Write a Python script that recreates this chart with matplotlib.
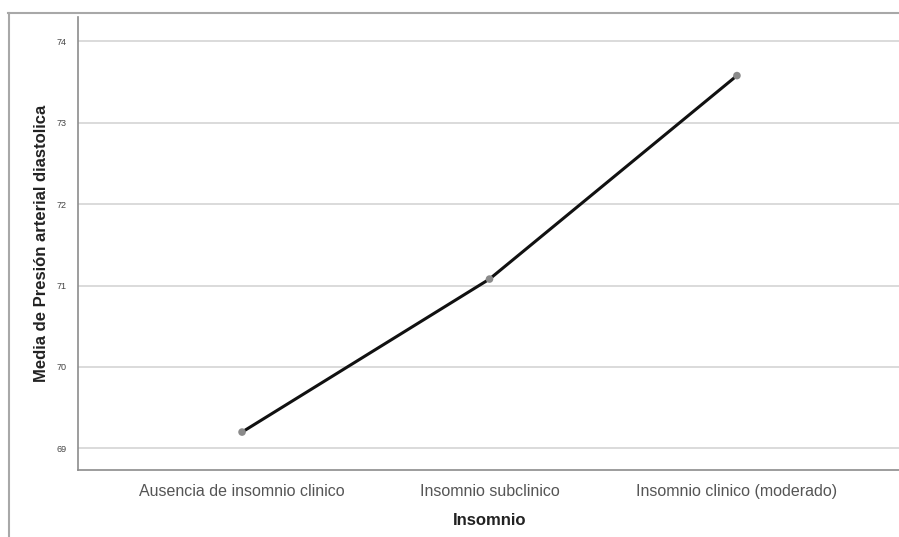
import matplotlib
matplotlib.use("Agg")
import matplotlib.pyplot as plt
from matplotlib.lines import Line2D

categories = ["Ausencia de insomnio clinico", "Insomnio subclinico", "Insomnio clinico (moderado)"]
means = [69.20, 71.08, 73.58]
yticks = [69, 70, 71, 72, 73, 74]

W, H = 899, 537
fig = plt.figure(figsize=(W / 100, H / 100), dpi=100)
fig.patch.set_facecolor("white")

# axes box in pixel coordinates (left, top, right, bottom)
left, top, right, bottom = 77.5, 17, 901.5, 470
ax = fig.add_axes([left / W, 1 - bottom / H, (right - left) / W, (bottom - top) / H])

x = list(range(len(categories)))
ax.plot(x, means, color="#111111", lw=2.2, solid_capstyle="round", zorder=3)
ax.scatter(x, means, s=30, color="#8a8a8a", zorder=4, edgecolors="none")

ax.set_xlim(-0.665, 2.665)
ax.set_ylim(68.734, 74.30)
ax.set_xticks(x)
ax.set_xticklabels(categories, fontsize=11.5, color="#555555", family="Liberation Sans")
ax.set_yticks(yticks)
ax.set_yticklabels([str(v) for v in yticks], fontsize=6.5, color="#444444", family="Liberation Sans")
ax.tick_params(axis="both", length=0)
ax.tick_params(axis="y", pad=8)
ax.tick_params(axis="x", pad=10)

ax.grid(axis="y", color="#d4d4d4", lw=1.2)
ax.set_axisbelow(True)
for side in ["top", "right"]:
    ax.spines[side].set_visible(False)
for side in ["left", "bottom"]:
    ax.spines[side].set_color("#8c8c8c")
    ax.spines[side].set_linewidth(1.2)

ax.set_xlabel("Insomnio", fontsize=12, fontweight="bold", color="#222222",
              family="Liberation Sans", labelpad=10)
ax.set_ylabel("Media de Presión arterial diastolica", fontsize=12, fontweight="bold",
              color="#222222", family="Liberation Sans", labelpad=5)

# outer chart frame
fig.add_artist(Line2D([8 / W, 1], [1 - 13 / H, 1 - 13 / H], color="#a8a8a8", lw=1.5))
fig.add_artist(Line2D([9 / W, 9 / W], [1 - 13 / H, 0], color="#a8a8a8", lw=1.5))

fig.savefig("out.png", dpi=100, facecolor="white")
